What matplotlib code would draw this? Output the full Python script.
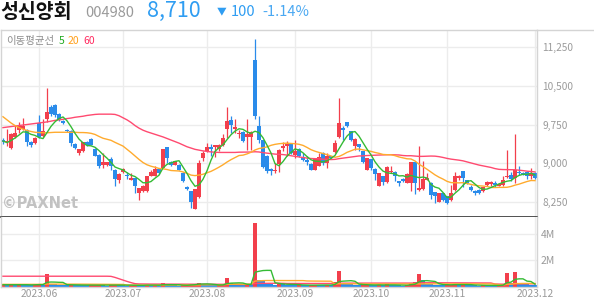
import matplotlib
matplotlib.use('Agg')
import matplotlib.pyplot as plt
import numpy as np
import pandas as pd
from matplotlib.lines import Line2D

plt.rcParams['font.family'] = ['Noto Sans CJK KR', 'DejaVu Sans']

# ---------------- data ----------------
opens = [9460, 9410, 9300, 9510, 9650, 9670, 9650, 9410, 9390, 9770,
         9520, 9850, 10090, 10120, 9960, 9820, 9650, 9630, 9380, 9190,
         9230, 9410, 9470, 9280, 9170, 8970, 8970, 9080, 8880, 8680,
         8830, 8780, 8680, 8710, 8420, 8460, 8460, 8760, 8760, 8890,
         8910, 9310, 9020, 8970, 8970, 8820, 8550, 8460, 8120, 8340,
         9100, 9230, 9310, 9310, 9270, 9360, 9670, 9830, 9670, 9570,
         9610, 9510, 9510, 11000, 9720, 9450, 9150, 8890, 8850, 8990,
         9300, 9330, 9390, 9170, 9280, 9120, 9070, 8990, 8880, 8950,
         9200, 9010, 9140, 9210, 9500, 9690, 9790, 9620, 9330, 9370,
         9230, 8880, 9080, 8890, 8570, 8750, 8640, 8830, 8840, 8650,
         8700, 8620, 8620, 9020, 8490, 8500, 8680, 8620, 8440, 8260,
         8420, 8360, 8290, 8480, 8720, 8850, 8670, 8540, 8470, 8490,
         8460, 8590, 8600, 8620, 8570, 8590, 8730, 8780, 8720, 8840,
         8820, 8840, 8750, 8810]
highs = [9490, 9670, 9590, 9750, 9800, 9880, 9670, 9430, 9500, 9940,
         9850, 10460, 10120, 10140, 9980, 9830, 9670, 9640, 9390, 9280,
         9420, 9430, 9480, 9290, 9180, 9200, 9030, 9130, 8890, 8810,
         8900, 8840, 8810, 8720, 8530, 8580, 8760, 8880, 8940, 8900,
         9280, 9320, 9040, 9050, 8990, 8830, 8560, 8470, 8510, 9060,
         9230, 9390, 9380, 9360, 9380, 9560, 10090, 9920, 9860, 9650,
         9620, 9850, 9630, 11400, 9910, 9460, 9170, 8900, 9010, 9270,
         9410, 9430, 9400, 9460, 9290, 9200, 9140, 9000, 9110, 9200,
         9210, 9200, 9150, 9450, 10270, 9720, 9800, 9630, 9490, 9380,
         9240, 9110, 9090, 8900, 8820, 8760, 8940, 8940, 8850, 8660,
         8710, 8810, 9030, 9030, 9340, 9040, 8810, 8630, 8450, 8430,
         8430, 8370, 8590, 8840, 8780, 8860, 8680, 8590, 8490, 8500,
         8550, 8650, 8660, 8650, 8610, 8750, 9250, 8840, 9560, 8940,
         8830, 8850, 8910, 8830]
lows = [9380, 9340, 9280, 9490, 9590, 9650, 9330, 9310, 9380, 9490,
        9510, 9800, 9910, 9900, 9820, 9760, 9600, 9330, 9270, 9170,
        9220, 9340, 9350, 9140, 8910, 8910, 8950, 8880, 8570, 8620,
        8820, 8700, 8670, 8420, 8300, 8440, 8450, 8750, 8750, 8800,
        8900, 9010, 8950, 8960, 8870, 8640, 8480, 8130, 8110, 8330,
        9040, 9210, 9140, 9120, 9230, 9330, 9490, 9590, 9580, 9490,
        9420, 9260, 9260, 9850, 9390, 8910, 8810, 8780, 8810, 8830,
        9230, 9140, 9180, 9100, 9130, 9040, 8970, 8870, 8870, 8940,
        8970, 8910, 9090, 9200, 9490, 9460, 9710, 9430, 9260, 9230,
        9010, 8870, 8880, 8670, 8560, 8590, 8620, 8810, 8650, 8570,
        8640, 8610, 8460, 8410, 8460, 8490, 8670, 8310, 8240, 8250,
        8280, 8220, 8280, 8460, 8680, 8540, 8600, 8460, 8390, 8410,
        8450, 8570, 8570, 8550, 8560, 8570, 8720, 8650, 8620, 8780,
        8780, 8700, 8690, 8690]
closes = [9410, 9440, 9570, 9590, 9720, 9720, 9410, 9360, 9490, 9510,
          9620, 9990, 9960, 9930, 9830, 9770, 9620, 9390, 9290, 9270,
          9410, 9360, 9360, 9150, 8950, 9020, 9020, 8950, 8700, 8800,
          8890, 8750, 8710, 8570, 8520, 8570, 8750, 8830, 8890, 8810,
          9270, 9100, 8960, 9040, 8880, 8650, 8500, 8250, 8500, 9010,
          9200, 9310, 9280, 9350, 9360, 9490, 9810, 9750, 9700, 9590,
          9430, 9570, 9600, 9910, 9460, 8930, 8850, 8850, 8880, 9250,
          9340, 9380, 9190, 9230, 9140, 9070, 9020, 8880, 9100, 9120,
          9010, 9140, 9100, 9390, 9770, 9650, 9720, 9460, 9470, 9320,
          9020, 9100, 8910, 8800, 8810, 8630, 8930, 8860, 8750, 8610,
          8650, 8800, 9020, 8620, 8530, 8700, 8710, 8390, 8370, 8420,
          8290, 8230, 8420, 8750, 8750, 8720, 8610, 8490, 8420, 8420,
          8540, 8640, 8640, 8590, 8600, 8680, 8760, 8700, 8880, 8810,
          8790, 8750, 8810, 8710]
volumes_k = [180, 150, 200, 170, 190, 160, 140, 120, 230, 240,
             180, 1000, 220, 200, 160, 150, 140, 180, 150, 140,
             130, 120, 130, 150, 170, 140, 110, 120, 190, 160,
             120, 100, 110, 150, 140, 130, 170, 130, 140, 110,
             290, 200, 130, 120, 110, 140, 150, 220, 250, 320,
             200, 170, 140, 120, 130, 220, 680, 300, 190, 170,
             150, 230, 210, 4800, 520, 420, 300, 200, 180, 260,
             220, 180, 170, 150, 160, 130, 120, 140, 170, 150,
             140, 160, 120, 400, 1190, 330, 250, 200, 180, 140,
             160, 170, 150, 140, 180, 130, 190, 150, 130, 120,
             110, 150, 330, 350, 960, 520, 230, 200, 180, 160,
             150, 160, 170, 260, 170, 190, 140, 130, 120, 110,
             130, 120, 110, 100, 120, 230, 1060, 320, 1140, 310,
             240, 200, 170, 150]

ma5_head = [9430, 9400, 9440, 9490]
ma20_head = [9900, 9840, 9780, 9730, 9690, 9660, 9635, 9615, 9600, 9595,
             9590, 9590, 9595, 9600, 9600, 9600, 9600, 9600, 9600]
ma60_head = [9690, 9700, 9710, 9720, 9730, 9740, 9750, 9760, 9770, 9780,
             9790, 9800, 9815, 9830, 9840, 9850, 9865, 9875, 9890, 9900,
             9910, 9925, 9935, 9945, 9950, 9950, 9950, 9950, 9945, 9920,
             9880, 9840, 9790, 9730, 9680, 9640, 9610, 9585, 9560, 9535,
             9510, 9480, 9450, 9420, 9390, 9355, 9320, 9295, 9270, 9255,
             9240, 9230, 9220, 9215, 9210, 9210, 9210, 9210, 9210]
vma5_head_k = [170, 170, 170, 170]
vma20_head_k = [200, 200, 200, 200, 200, 200, 200, 200, 200, 200,
                200, 220, 220, 220, 220, 220, 220, 220, 220]
vma60_head_k = [810] * 27 + [800, 720, 620, 520, 420, 330, 250, 230,
                             225, 222, 220, 220, 220, 220, 218, 216, 215, 214,
                             213, 212, 211, 210, 210, 208, 206, 205, 204, 203,
                             202, 201, 200, 200]

price_ticks = [8250, 9000, 9750, 10500, 11250]
month_idx = [9, 30, 51, 73, 92, 111, 133]
month_labels = ['2023.06', '2023.07', '2023.08', '2023.09', '2023.10', '2023.11', '2023.12']
vol_ticks = [2_000_000, 4_000_000]
vol_tick_labels = ['2M', '4M']

name = '성신양회'
code = '004980'
last_price = '8,710'
change = '100'
change_pct = '-1.14%'

# ---------------- styles ----------------
RED = '#f23f4c'
BLUE = '#2a8bea'
C5 = '#35bb35'
C20 = '#ffab2e'
C60 = '#ff4a70'
GRID = '#ececec'
FRAME = '#d4d4d4'
TXT = '#9a9a9a'
PBLUE = '#2f9df2'

W, H = 594, 304
fig = plt.figure(figsize=(W / 100, H / 100), dpi=100)
def fx(px): return px / W
def fy(py): return 1 - py / H

L, R, T, MID, B = 1, 537, 30, 217, 287
ax = fig.add_axes([fx(L), fy(MID), fx(R) - fx(L), fy(T) - fy(MID)])
axv = fig.add_axes([fx(L), fy(B), fx(R) - fx(L), fy(MID) - fy(B)])

o = np.array(opens, float); h = np.array(highs, float)
lo = np.array(lows, float); c = np.array(closes, float)
v = np.array(volumes_k, float) * 1000
n = len(c)
x = np.arange(n)

def ma(arr, w, head):
    m = pd.Series(arr).rolling(w).mean().to_numpy()
    m[:len(head)] = head
    return m

ma5 = ma(c, 5, ma5_head)
ma20 = ma(c, 20, ma20_head)
ma60 = ma(c, 60, ma60_head)
vma5 = ma(v, 5, np.array(vma5_head_k) * 1000)
vma20 = ma(v, 20, np.array(vma20_head_k) * 1000)
vma60 = ma(v, 60, np.array(vma60_head_k) * 1000)

cols = [RED if c[i] >= o[i] else BLUE for i in range(n)]
ax.vlines(x, lo, h, colors=cols, linewidth=0.9, zorder=2)
body_bot = np.minimum(o, c)
body_h = np.maximum(np.abs(c - o), 16)
ax.bar(x, body_h, bottom=body_bot, width=0.8, color=cols, linewidth=0, zorder=2)

ax.plot(x, ma60, color=C60, lw=1.0, zorder=3)
ax.plot(x, ma20, color=C20, lw=1.0, zorder=3)
ax.plot(x, ma5, color=C5, lw=1.0, zorder=3)

ax.set_xlim(-0.5, n - 0.5)
ax.set_ylim(7962, 11577)
ax.set_yticks(price_ticks)
ax.set_yticklabels([f'{t:,}' for t in price_ticks])
ax.yaxis.tick_right()
ax.tick_params(axis='y', length=0, pad=4, labelsize=7.3, labelcolor=TXT)
ax.set_xticks(month_idx)
ax.tick_params(axis='x', length=0, labelbottom=False)
ax.grid(True, color=GRID, lw=1.0, zorder=0)
ax.set_axisbelow(True)
for s in ['left', 'top', 'right']:
    ax.spines[s].set_color(FRAME); ax.spines[s].set_linewidth(1.0)
ax.spines['bottom'].set_color('#333333'); ax.spines['bottom'].set_linewidth(1.2)

# volume
vcols = [RED] + [RED if v[i] >= v[i - 1] else BLUE for i in range(1, n)]
axv.bar(x, v, width=0.8, color=vcols, linewidth=0, zorder=2)
axv.plot(x, vma60, color=C60, lw=1.0, zorder=3)
axv.plot(x, vma20, color=C20, lw=1.0, zorder=3)
axv.plot(x, vma5, color=C5, lw=1.0, zorder=3)
axv.set_xlim(-0.5, n - 0.5)
axv.set_ylim(0, 5.26e6)
axv.set_yticks(vol_ticks)
axv.set_yticklabels(vol_tick_labels)
axv.yaxis.tick_right()
axv.tick_params(axis='y', length=0, pad=2.7, labelsize=7.5, labelcolor=TXT)
axv.set_xticks(month_idx)
axv.set_xticklabels(month_labels)
axv.tick_params(axis='x', length=0, pad=1.5, labelsize=7.4, labelcolor=TXT)
axv.grid(True, color=GRID, lw=1.0, zorder=0)
axv.set_axisbelow(True)
axv.spines['top'].set_visible(False)
for s in ['left', 'right', 'bottom']:
    axv.spines[s].set_color(FRAME); axv.spines[s].set_linewidth(1.0)

# frame line across the top
fig.add_artist(Line2D([fx(R), 1], [fy(T), fy(T)], color=FRAME, lw=1.0))

# header texts (baseline-aligned)
fig.text(fx(0), fy(17.5), name, fontsize=14, fontweight='bold', color='#111111', va='baseline', ha='left')
fig.text(fx(85), fy(16.8), code, fontsize=10.5, color=TXT, va='baseline', ha='left')
fig.text(fx(147), fy(17.0), last_price, fontsize=15.5, color=PBLUE, va='baseline', ha='left')
fig.text(fx(217), fy(14.0), '▼', fontsize=7, color=PBLUE, va='baseline', ha='left')
fig.text(fx(231), fy(16.5), change, fontsize=10.5, color=PBLUE, va='baseline', ha='left')
fig.text(fx(262), fy(16.5), change_pct, fontsize=10.5, color='#4aa8f2', va='baseline', ha='left')

# legend
fig.text(fx(6), fy(41), '이동평균선', fontsize=7.5, color='#8c8c8c', va='center', ha='left')
fig.text(fx(59), fy(41), '5', fontsize=7.5, color='#22aa22', va='center', ha='left')
fig.text(fx(68), fy(41), '20', fontsize=7.5, color='#ff9f1a', va='center', ha='left')
fig.text(fx(83), fy(41), '60', fontsize=7.5, color='#ff2a5f', va='center', ha='left')

# watermark
fig.text(fx(2), fy(204), '©PAXNet', fontsize=10.5, fontweight='bold', color='#c2c2c2',
         family=['DejaVu Sans'], va='center', ha='left')

fig.savefig('out.png', dpi=100)
